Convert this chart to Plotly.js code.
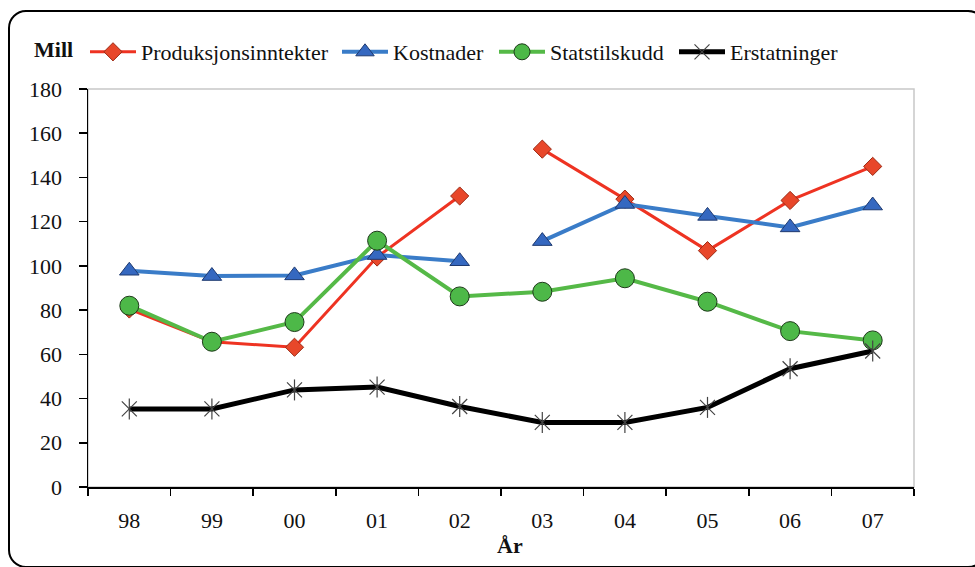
<!DOCTYPE html>
<html>
<head>
<meta charset="utf-8">
<script src="https://cdn.plot.ly/plotly-3.0.1.min.js"></script>
<style>
  html, body { margin: 0; padding: 0; background: #fff; overflow: hidden; }
  #wrap { position: relative; width: 975px; height: 567px; overflow: hidden; }
  #frame { position: absolute; left: 8px; top: 10px; width: 974px; height: 554px;
           border: 2px solid #000; border-radius: 18px; pointer-events: none; z-index: 2; }
  #chart { position: absolute; left: 0; top: 0; width: 975px; height: 567px; }
</style>
</head>
<body>
<div id="wrap">
  <div id="chart"></div>
  <div id="frame"></div>
</div>
<script>
const years = ['98', '99', '00', '01', '02', '03', '04', '05', '06', '07'];
const produksjonsinntekter = [80.5, 65.7, 63.2, 104, 131.6, 152.8, 130.2, 106.9, 129.6, 145];
const kostnader = [97.8, 95.4, 95.7, 104.9, 102.1, 111.2, 128, 122.6, 117.4, 127.3];
const statstilskudd = [82, 65.7, 74.6, 111.4, 86.2, 88.3, 94.4, 83.8, 70.5, 66.3];
const erstatninger = [35.3, 35.3, 43.9, 45.2, 36.4, 29.2, 29.2, 36, 53.5, 61.5];
const seriesNames = ['Produksjonsinntekter', 'Kostnader', 'Statstilskudd', 'Erstatninger'];
const breakAfter = 5; // lines for the first two series are broken between 02 and 03

const FONT = 'Liberation Serif, Times New Roman, serif';
const FS = 22;

const redStyle = {
  line: {color: '#EE3322', width: 3},
  marker: {symbol: 'diamond', size: 14, color: '#E8472A', line: {color: '#9C2A14', width: 1}}
};
const blueStyle = {
  line: {color: '#3A7CC8', width: 4},
  marker: {symbol: 'triangle-up', size: 17, color: '#3568C0', line: {color: '#1F3A70', width: 1}}
};
const greenStyle = {
  line: {color: '#55B947', width: 4},
  marker: {symbol: 'circle', size: 19, color: '#4DB848', line: {color: '#1E3A1A', width: 1}}
};

function split(name, vals, style, legendId) {
  return [
    Object.assign({type: 'scatter', mode: 'lines+markers', name: name, legendgroup: name, legend: legendId,
      x: years.slice(0, breakAfter), y: vals.slice(0, breakAfter)}, style),
    Object.assign({type: 'scatter', mode: 'lines+markers', name: name, legendgroup: name, legend: legendId,
      showlegend: false, x: years.slice(breakAfter), y: vals.slice(breakAfter)}, style)
  ];
}

const traces = [].concat(
  split(seriesNames[0], produksjonsinntekter, redStyle, 'legend'),
  split(seriesNames[1], kostnader, blueStyle, 'legend2'),
  [Object.assign({type: 'scatter', mode: 'lines+markers', name: seriesNames[2], legend: 'legend3',
    x: years, y: statstilskudd}, greenStyle)],
  [{type: 'scatter', mode: 'lines+markers', name: seriesNames[3], legendgroup: seriesNames[3], legend: 'legend4',
    x: years, y: erstatninger,
    line: {color: '#000000', width: 5},
    marker: {symbol: 'x-thin-open', size: 15, color: '#444', line: {color: '#444', width: 1.2}}},
   {type: 'scatter', mode: 'markers', name: seriesNames[3], legendgroup: seriesNames[3], legend: 'legend4',
    showlegend: false, x: years, y: erstatninger,
    marker: {symbol: 'line-ns-open', size: 15, color: '#444', line: {color: '#444', width: 1.2}}}]
);

function legendAt(px) {
  return {orientation: 'h', x: (px - 88) / 826, xanchor: 'left', y: (487 - 52) / 398, yanchor: 'middle',
          font: {family: FONT, size: FS, color: '#111'}, itemwidth: 46, bgcolor: 'rgba(0,0,0,0)',
          borderwidth: 0};
}

const layout = {
  width: 975, height: 567,
  margin: {l: 88, r: 61, t: 89, b: 80},
  paper_bgcolor: '#fff', plot_bgcolor: '#fff',
  font: {family: FONT, size: FS, color: '#111'},
  showlegend: true,
  legend: legendAt(85),
  legend2: legendAt(337),
  legend3: legendAt(494),
  legend4: legendAt(674),
  xaxis: {type: 'category', categoryorder: 'array', categoryarray: years, range: [-0.5, 9.5], autorange: false,
          showline: true, linecolor: '#000', linewidth: 1.5, showgrid: false, zeroline: false,
          ticks: 'outside', tickson: 'boundaries', ticklen: 7, tickcolor: '#000', tickwidth: 1.5,
          ticklabelstandoff: 13, tickfont: {family: FONT, size: FS, color: '#111'},
          fixedrange: true},
  yaxis: {range: [0, 180], autorange: false, dtick: 20, showline: true, linecolor: '#000', linewidth: 1.5,
          showgrid: false, zeroline: false, ticks: 'outside', ticklen: 8, tickcolor: '#000', tickwidth: 1.5,
          ticklabelstandoff: 12, tickfont: {family: FONT, size: FS, color: '#111'}, fixedrange: true},
  shapes: [{type: 'rect', xref: 'paper', yref: 'paper', x0: 0, x1: 1, y0: 0, y1: 1,
            line: {color: '#C8C8C8', width: 1.5}, layer: 'below'}],
  annotations: [
    {text: '<b>Mill</b>', xref: 'paper', yref: 'paper', x: (53 - 88) / 826, y: (487 - 50) / 398,
     xanchor: 'center', yanchor: 'middle', showarrow: false,
     font: {family: FONT, size: FS, color: '#111'}},
    {text: '<b>År</b>', xref: 'paper', yref: 'paper', x: (510 - 88) / 826, y: (487 - 545) / 398,
     xanchor: 'center', yanchor: 'middle', showarrow: false,
     font: {family: FONT, size: FS, color: '#111'}}
  ]
};

Plotly.newPlot('chart', traces, layout, {displayModeBar: false, staticPlot: true});
</script>
</body>
</html>
